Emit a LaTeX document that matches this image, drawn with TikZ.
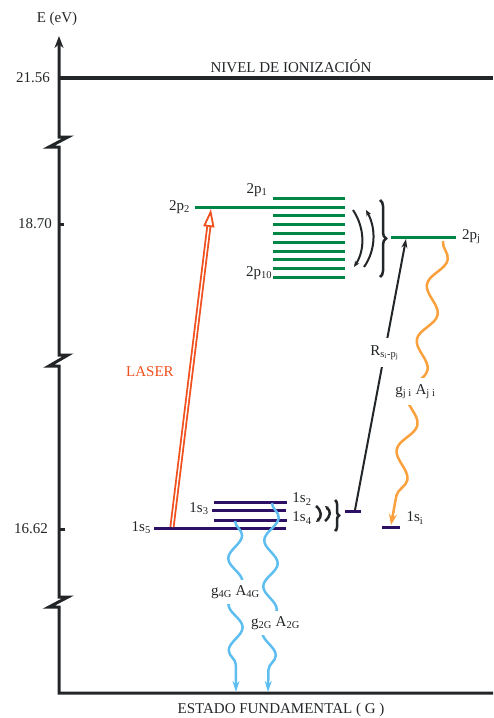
\documentclass[tikz,border=0pt]{standalone}
\usepackage{fontspec}
\setmainfont{Liberation Serif}
\usepackage{xcolor}
\usetikzlibrary{arrows.meta,positioning,decorations.pathmorphing,decorations.pathreplacing}
\definecolor{lvlgreen}{RGB}{0,135,70}
\definecolor{lvlpurple}{RGB}{45,15,100}
\definecolor{laserred}{RGB}{240,80,30}
\definecolor{decayorange}{RGB}{250,160,60}
\definecolor{decayblue}{RGB}{95,190,240}
\definecolor{axisgray}{RGB}{35,38,40}
\newcommand{\lsub}[1]{\textsubscript{#1}}

\begin{document}
\begin{tikzpicture}[x=1pt, y=-1pt, font=\fontsize{15}{18}\selectfont, node distance=2pt, >=Stealth,
    plevel/.style={draw=lvlgreen, line width=3pt},
    slevel/.style={draw=lvlpurple, line width=3pt},
    lbl/.style={inner sep=1pt, text=axisgray},
    mixarrow/.style={draw=axisgray, line width=2pt, -{Stealth[length=6pt,width=5pt]}},
    laser/.style={draw=laserred, line width=1.8pt, double=white, double distance=1.4pt,
        -{Triangle[open, length=18pt, width=11pt, line width=1.8pt]}},
    wave/.style={decorate, line width=2.5pt}]
    \useasboundingbox (0,0) rectangle (493,718);

    % energy axis with breaks
    \coordinate (orig) at (59,693);
    \coordinate (etop) at (59,36);
    \draw[axisgray, line width=3pt, -{Stealth[length=12pt,width=9pt]}]
        (493,693) -- (orig) -- (59,607) -- (49,607) -- (68,597) -- (59,597)
        -- (59,366) -- (49,366) -- (68,355) -- (59,355)
        -- (59,147) -- (49,147) -- (68,137) -- (59,137) -- (etop);
    \node[lbl] (eaxis) at (57,19) {E (eV)};
    \node[lbl] (ground) at (281,710) {ESTADO FUNDAMENTAL ( G )};

    % ionization level and energy marks
    \draw[axisgray, line width=4pt] (59,78) -- (493,78);
    \node[lbl] (ion) at (291,66) {NIVEL DE IONIZACIÓN};
    \node[lbl, anchor=east] (e2156) at (51,78) {21.56};
    \draw[axisgray, line width=3pt] (59,224) -- (64,224);
    \node[lbl, anchor=east] (e1870) at (53,224) {18.70};
    \draw[axisgray, line width=3pt] (59,529) -- (65,529);
    \node[lbl, anchor=east] (e1662) at (49,529) {16.62};

    % 2p levels
    \coordinate (p2w) at (195,207);
    \coordinate (p2e) at (345,207);
    \draw[plevel] (p2w) -- (p2e);
    \foreach \y in {198,215,224,233,242,251,259,268,277}
        \draw[plevel] (273,\y) -- (345,\y);
    \node[lbl, left=4pt of p2w] (p2lab) {2p\lsub{2}};
    \node[lbl] (p1lab) at (257,190) {2p\lsub{1}};
    \node[lbl] (p10lab) at (259,273) {2p\lsub{10}};
    \draw[mixarrow] (353,210) .. controls (365,228) and (365,250) .. (354,267);
    \draw[mixarrow] (364,267) .. controls (376,250) and (376,228) .. (366,210);
    \draw[axisgray, line width=2.5pt, decorate, decoration={brace, amplitude=6pt}] (380,200) -- (380,277);

    \coordinate (pjw) at (391,237);
    \coordinate (pje) at (456,237);
    \draw[plevel] (pjw) -- (pje);
    \node[lbl, right=5pt of pje] (pjlab) {2p\lsub{j}};

    % 1s levels
    \coordinate (s5w) at (154,528);
    \coordinate (s5e) at (286,528);
    \draw[slevel] (s5w) -- (s5e);
    \draw[slevel] (212,510) -- (286,510);
    \draw[slevel] (214,502) -- (287,502);
    \draw[slevel] (214,520) -- (287,520);
    \node[lbl, left=2pt of s5w] (s5lab) {1s\lsub{5}};
    \node[lbl] (s3lab) at (199,509) {1s\lsub{3}};
    \node[lbl] (s2lab) at (302,499) {1s\lsub{2}};
    \node[lbl] (s4lab) at (302,518) {1s\lsub{4}};
    \draw[mixarrow, line width=2.5pt, -{Stealth[length=4pt,width=4pt]}] (316,506) .. controls (322,511) and (322,517) .. (316,522);
    \draw[mixarrow, line width=2.5pt, -{Stealth[length=4pt,width=4pt]}] (325,521) .. controls (331,516) and (331,511) .. (325,506);
    \draw[axisgray, line width=2.5pt, decorate, decoration={brace, amplitude=4pt}] (335,500) -- (335,531);
    \draw[slevel] (345,511) -- (361,511);
    \draw[slevel] (382,527) -- (400,527);
    \node[lbl] (silab) at (415,518) {1s\lsub{i}};

    % transitions
    \coordinate (laserfoot) at (172,527);
    \coordinate (laserhead) at (211,209);
    \draw[laser] (laserfoot) -- (laserhead);
    \node[lbl, text=laserred] (laserlab) at (150,372) {LASER};

    \coordinate (sgrp) at (355,510);
    \coordinate (pjfoot) at (406,239);
    \draw[axisgray, line width=2pt, -{Stealth[length=9pt,width=6pt]}] (sgrp) --
        node[pos=0.58, fill=white, lbl, inner ysep=7pt] (rlab) {R\lsub{s\lsub{i}-p\lsub{j}}} (pjfoot);

    \coordinate (pjsrc) at (443,241);
    \coordinate (sitgt) at (391,525);
    \draw[wave, decayorange, decoration={snake, amplitude=8pt, segment length=56pt, post length=22pt},
        -{Stealth[length=11pt,width=8pt]}] (pjsrc) --
        node[pos=0.53, fill=white, lbl, inner ysep=6pt] (gjilab) {g\lsub{j i} A\lsub{j i}} (sitgt);

    \coordinate (s4src) at (235,521);
    \coordinate (g4tgt) at (236,692);
    \draw[wave, decayblue, decoration={snake, amplitude=7pt, segment length=46pt, post length=22pt},
        -{Stealth[length=11pt,width=7pt]}] (s4src) --
        node[pos=0.415, fill=white, lbl, inner ysep=5pt] (g4lab) {g\lsub{4G} A\lsub{4G}} (g4tgt);

    \coordinate (s2src) at (272,503);
    \coordinate (g2tgt) at (268,692);
    \draw[wave, decayblue, decoration={snake, amplitude=7pt, segment length=46pt, post length=22pt},
        -{Stealth[length=11pt,width=7pt]}] (s2src) --
        node[pos=0.635, fill=white, lbl, inner ysep=5pt, xshift=6pt] (g2lab) {g\lsub{2G} A\lsub{2G}} (g2tgt);
\end{tikzpicture}
\end{document}
